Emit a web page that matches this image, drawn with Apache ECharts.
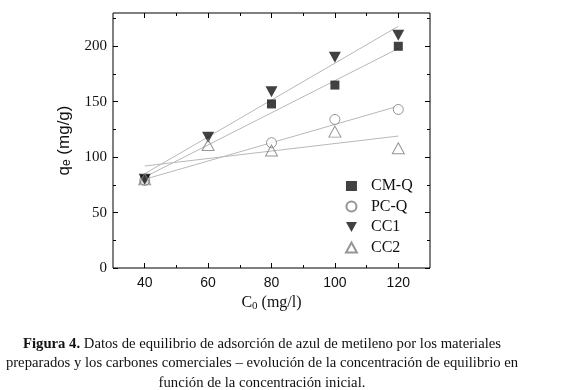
<!DOCTYPE html>
<html>
<head>
<meta charset="utf-8">
<script src="https://cdn.jsdelivr.net/npm/echarts@6/dist/echarts.min.js"></script>
<style>
html, body { margin: 0; background: #fff; }
#main { width: 565px; height: 390px; }
</style>
</head>
<body>
<div id="main"></div>
<script>
// concentración inicial C0 (mg/l)
const c0 = [40, 60, 80, 100, 120];
// qe (mg/g), null = sin punto
const cmq = [80, null, 148, 165, 200];
const pcq = [79, null, 113, 134, 143];
const cc1 = [80, 118, 159, 190, 210];
const cc2 = [80, 111, 106, 123, 108];

// rectas de ajuste: valor en C0 = 40 y C0 = 120
const fitX = [40, 120];
const fitCMQ = [82, 198];
const fitPCQ = [80, 146];
const fitCC1 = [85, 218];
const fitCC2 = [92, 119];

// marcas de los ejes
const xMajor = [40, 60, 80, 100, 120];
const xMinor = [50, 70, 90, 110];
const yMajor = [0, 50, 100, 150, 200];
const yMinor = [25, 75, 125, 175, 225];

const serif = 'Liberation Serif';
const sans = 'Liberation Sans';
const triDown = 'path://M0,0L12,0L6,11Z';
const triUp = 'path://M6,0L12,11L0,11Z';

function pairs(xs, ys) {
    return xs.map((x, i) => [x, ys[i]]).filter(p => p[1] != null);
}

// eje "fantasma" solo para dibujar marcas (arriba/derecha o menores)
function tickAxis(dim, pos, values, len) {
    return {
        type: 'value',
        position: pos,
        min: dim === 'x' ? 30 : 0,
        max: dim === 'x' ? 130 : 230,
        axisLine: { show: false, onZero: false },
        axisTick: { show: true, inside: true, length: len, customValues: values,
            lineStyle: { color: '#000', width: 1 } },
        axisLabel: { show: false },
        splitLine: { show: false }
    };
}

var myChart = echarts.init(document.getElementById('main'));

const option = {
    animation: false,
    grid: {
        left: 113, right: 135, top: 13, bottom: 122,
        show: true,
        borderColor: '#000',
        borderWidth: 1
    },
    legend: {
        data: [
            { name: 'CM-Q', icon: 'rect' },
            { name: 'PC-Q', icon: 'circle' },
            { name: 'CC1', icon: triDown },
            { name: 'CC2', icon: triUp }
        ],
        orient: 'vertical',
        left: 340,
        top: 173,
        itemWidth: 11,
        itemHeight: 10,
        itemGap: 4.5,
        formatter: '{t|{name}}',
        textStyle: {
            rich: { t: { fontFamily: serif, fontSize: 16, color: '#111', padding: [0, 0, 0, 9] } }
        }
    },
    xAxis: [
        {
            type: 'value',
            position: 'bottom',
            min: 30,
            max: 130,
            name: '{a|C}{s|0}{a| (mg/l)}',
            nameLocation: 'middle',
            nameGap: 26,
            nameTextStyle: {
                fontFamily: serif, fontSize: 16, color: '#111',
                rich: {
                    a: { fontFamily: serif, fontSize: 16, color: '#111' },
                    s: { fontFamily: serif, fontSize: 11, color: '#111', verticalAlign: 'bottom', padding: [6, 0, 0, 0] }
                }
            },
            axisLine: { show: false, onZero: false },
            axisTick: { show: true, inside: true, length: 5, customValues: xMajor,
                lineStyle: { color: '#000' } },
            axisLabel: { customValues: xMajor, fontFamily: sans, fontSize: 14, color: '#111', margin: 8 },
            splitLine: { show: false }
        },
        tickAxis('x', 'bottom', xMinor, 3),
        tickAxis('x', 'top', xMajor, 5),
        tickAxis('x', 'top', xMinor, 3)
    ],
    yAxis: [
        {
            type: 'value',
            position: 'left',
            min: 0,
            max: 230,
            name: '{a|q}{s|e}{a| (mg/g)}',
            nameLocation: 'middle',
            nameGap: 40,
            nameTextStyle: {
                fontFamily: sans, fontSize: 17, color: '#111',
                rich: {
                    a: { fontFamily: sans, fontSize: 17, color: '#111' },
                    s: { fontFamily: sans, fontSize: 12, color: '#111', verticalAlign: 'bottom', padding: [6, 0, 0, 0] }
                }
            },
            axisLine: { show: false, onZero: false },
            axisTick: { show: true, inside: true, length: 5, customValues: yMajor,
                lineStyle: { color: '#000' } },
            axisLabel: { customValues: yMajor, fontFamily: serif, fontSize: 15, color: '#111', margin: 6 },
            splitLine: { show: false }
        },
        tickAxis('y', 'left', yMinor, 3),
        tickAxis('y', 'right', yMajor, 5),
        tickAxis('y', 'right', yMinor, 3)
    ],
    series: [
        // rectas de ajuste (grises)
        { type: 'line', name: 'fitCMQ', data: pairs(fitX, fitCMQ), symbol: 'none', silent: true,
          lineStyle: { color: '#b8b8b8', width: 1 }, z: 1 },
        { type: 'line', name: 'fitPCQ', data: pairs(fitX, fitPCQ), symbol: 'none', silent: true,
          lineStyle: { color: '#b8b8b8', width: 1 }, z: 1 },
        { type: 'line', name: 'fitCC1', data: pairs(fitX, fitCC1), symbol: 'none', silent: true,
          lineStyle: { color: '#b8b8b8', width: 1 }, z: 1 },
        { type: 'line', name: 'fitCC2', data: pairs(fitX, fitCC2), symbol: 'none', silent: true,
          lineStyle: { color: '#b8b8b8', width: 1 }, z: 1 },
        // puntos experimentales
        { type: 'scatter', name: 'CM-Q', data: pairs(c0, cmq), symbol: 'rect', symbolSize: 9,
          itemStyle: { color: '#111' }, z: 3 },
        { type: 'scatter', name: 'PC-Q', data: pairs(c0, pcq), symbol: 'circle', symbolSize: 10,
          itemStyle: { color: '#fff', borderColor: '#7a7a7a', borderWidth: 1 }, z: 3 },
        { type: 'scatter', name: 'CC1', data: pairs(c0, cc1), symbol: triDown, symbolSize: [12, 11],
          itemStyle: { color: '#111' }, z: 3 },
        { type: 'scatter', name: 'CC2', data: pairs(c0, cc2), symbol: triUp, symbolSize: [12, 11],
          itemStyle: { color: 'rgba(255,255,255,0)', borderColor: '#7a7a7a', borderWidth: 1 }, z: 3 }
    ],
    graphic: [
        {
            type: 'text',
            x: 262,
            y: 334,
            style: {
                text: '{b|Figura 4.} Datos de equilibrio de adsorción de azul de metileno por los materiales\n' +
                      'preparados y los carbones comerciales – evolución de la concentración de equilibrio en\n' +
                      'función de la concentración inicial.',
                align: 'center',
                textAlign: 'center',
                fontFamily: serif,
                fontSize: 14.7,
                lineHeight: 19.5,
                fill: '#111',
                rich: {
                    b: { fontFamily: serif, fontSize: 14.7, fontWeight: 'bold', fill: '#111' }
                }
            }
        }
    ]
};

myChart.setOption(option);
window.addEventListener('resize', myChart.resize);
</script>
</body>
</html>
